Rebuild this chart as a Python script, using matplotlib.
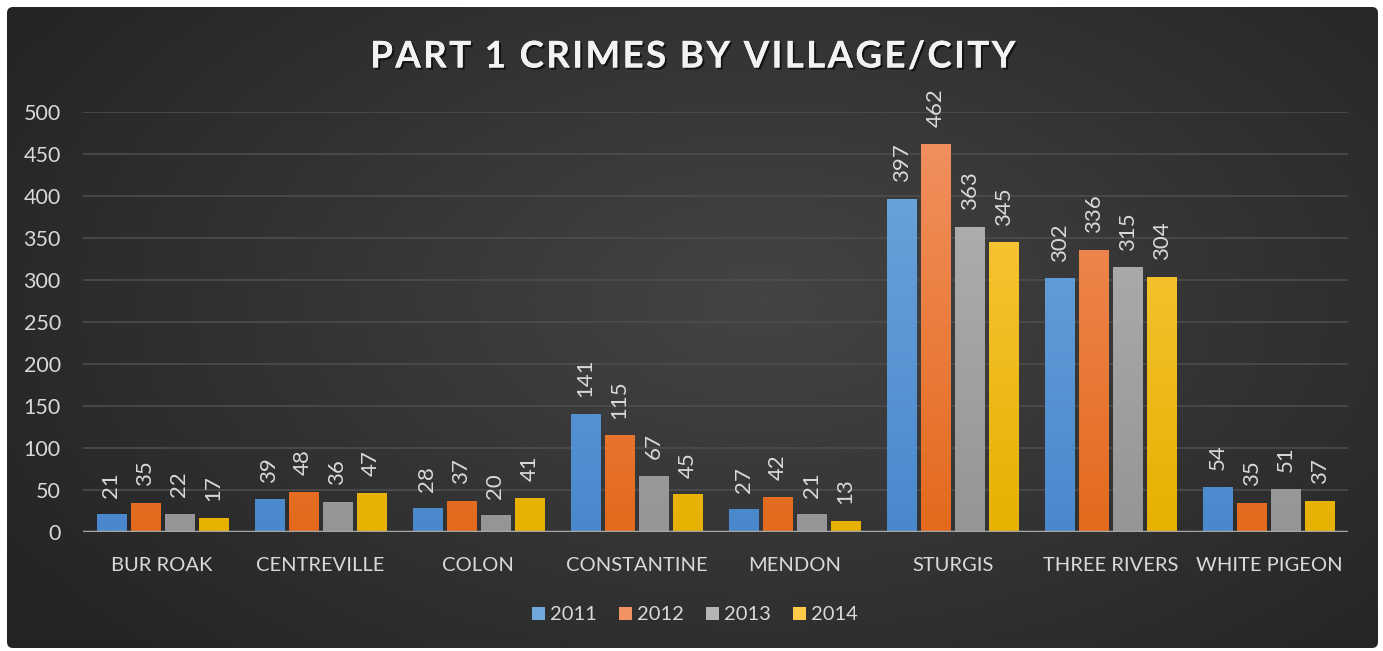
import numpy as np
import matplotlib
matplotlib.use("Agg")
import matplotlib.pyplot as plt
from matplotlib.patches import FancyBboxPatch
from matplotlib.colors import LinearSegmentedColormap
import matplotlib.patheffects as pe

plt.rcParams['font.family'] = ['Lato', 'DejaVu Sans']

categories = ["BUR ROAK", "CENTREVILLE", "COLON", "CONSTANTINE", "MENDON",
              "STURGIS", "THREE RIVERS", "WHITE PIGEON"]
years = ["2011", "2012", "2013", "2014"]
v2011 = [21, 39, 28, 141, 27, 397, 302, 54]
v2012 = [35, 48, 37, 115, 42, 462, 336, 35]
v2013 = [22, 36, 20, 67, 21, 363, 315, 51]
v2014 = [17, 47, 41, 45, 13, 345, 304, 37]
series = [v2011, v2012, v2013, v2014]
yticks = [0, 50, 100, 150, 200, 250, 300, 350, 400, 450, 500]
title = "PART 1 CRIMES BY VILLAGE/CITY"

top_cols = ["#70a8de", "#f39263", "#b5b5b5", "#ffca47"]
bot_cols = ["#4a88cd", "#e36a1c", "#959595", "#e6b100"]

W, H = 1383, 651
fig = plt.figure(figsize=(W / 100, H / 100), dpi=100)
fig.patch.set_facecolor("white")

# background panel with radial gradient
bg = fig.add_axes([0, 0, 1, 1])
bg.set_xlim(0, W)
bg.set_ylim(H, 0)
bg.axis("off")
yy, xx = np.mgrid[0:H, 0:W]
cx, cy = 760, 300
d = np.sqrt(((xx - cx) / 900.0) ** 2 + ((yy - cy) / 520.0) ** 2)
d = np.clip(d, 0, 1)
c_in = np.array([0x44, 0x44, 0x44]) / 255.0
c_out = np.array([0x24, 0x24, 0x24]) / 255.0
img = c_in[None, None, :] * (1 - d[..., None]) + c_out[None, None, :] * d[..., None]
panel = FancyBboxPatch((7, 7), 1371, 641, boxstyle="round,pad=0,rounding_size=6",
                       facecolor="none", edgecolor="none")
bg.add_patch(panel)
im = bg.imshow(img, extent=(0, W, H, 0), zorder=0)
im.set_clip_path(panel)

# main axes
L, R, B, T = 83, 1348, 532, 112
ax = fig.add_axes([L / W, (H - B) / H, (R - L) / W, (B - T) / H])
ax.patch.set_alpha(0)
for s in ax.spines.values():
    s.set_visible(False)
ax.set_yticks(yticks)
ax.set_yticklabels([str(t) for t in yticks], fontsize=15.5, color="#d9d9d9")
ax.tick_params(axis="y", length=0, pad=16)
ax.tick_params(axis="x", length=0, pad=18)
ax.grid(axis="y", color="#4d4d4d", linewidth=1.2, zorder=0)
ax.set_axisbelow(True)
x = np.arange(len(categories))
ax.set_xticks(x)
ax.set_xticklabels(categories, fontsize=14.5, color="#d9d9d9")

step = 0.215
bw = 0.184
for i, (vals, yr) in enumerate(zip(series, years)):
    offs = (i - 1.5) * step
    bars = ax.bar(x + offs, vals, width=bw, color=top_cols[i], label=yr, zorder=2,
                  edgecolor="none")
    cmap = LinearSegmentedColormap.from_list("g%d" % i, [bot_cols[i], top_cols[i]])
    for b, v in zip(bars, vals):
        grad = np.linspace(0, 1, 256).reshape(-1, 1)
        x0 = b.get_x()
        gi = ax.imshow(grad, cmap=cmap, aspect="auto", origin="lower",
                       extent=(x0, x0 + bw, 0, 500), zorder=2.1)
        gi.set_clip_path(b)
        ax.annotate(str(v), (x0 + bw / 2, v), xytext=(0, 12), textcoords="offset points",
                    rotation=90, ha="center", va="bottom", fontsize=16,
                    color="#d9d9d9", zorder=4)
ax.set_xlim(-0.5, len(categories) - 0.5)
ax.set_ylim(0, 500)
ax.axhline(0, color="#a6a6a6", linewidth=2.5, zorder=3)

# title (letter-spaced)
spaced = "\u200a".join(title)
fig.text(692 / W, 1 - 57 / H, spaced,
         ha="center", va="center", fontsize=26.5, fontweight="bold", color="#f2f2f2",
         path_effects=[pe.withSimplePatchShadow(offset=(1.5, -1.5), shadow_rgbFace="black", alpha=0.6), pe.Normal()])

# legend
leg = fig.legend(loc="center", bbox_to_anchor=(695 / W, 1 - 615 / H), ncol=4, frameon=False,
                 fontsize=14.5, handlelength=0.65, handleheight=0.65, handletextpad=0.25,
                 columnspacing=1.1)
for t in leg.get_texts():
    t.set_color("#d9d9d9")

fig.savefig("out.png", dpi=100, facecolor="white")
